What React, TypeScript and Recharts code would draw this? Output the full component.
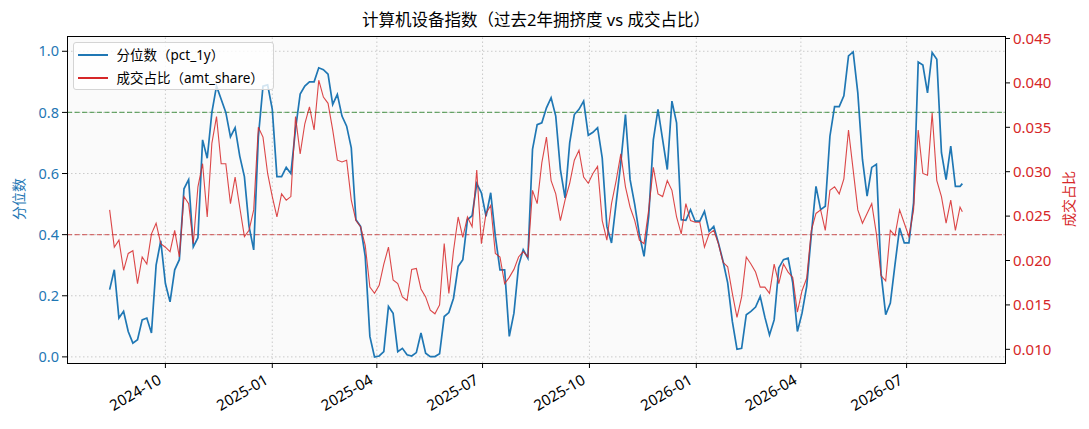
import React from 'react'
import { LineChart, Line, XAxis, YAxis, CartesianGrid, ReferenceLine, Legend } from 'recharts'

const dates = [
  '2024-08-14', '2024-08-18', '2024-08-22', '2024-08-26', '2024-08-30', '2024-09-03', '2024-09-07', '2024-09-11', '2024-09-15', '2024-09-19', '2024-09-23', '2024-09-27',
  '2024-10-01', '2024-10-05', '2024-10-09', '2024-10-13', '2024-10-17', '2024-10-21', '2024-10-25', '2024-10-29', '2024-11-02', '2024-11-06', '2024-11-10', '2024-11-14',
  '2024-11-18', '2024-11-22', '2024-11-26', '2024-11-30', '2024-12-04', '2024-12-08', '2024-12-12', '2024-12-16', '2024-12-20', '2024-12-24', '2024-12-28', '2025-01-01',
  '2025-01-05', '2025-01-09', '2025-01-13', '2025-01-17', '2025-01-21', '2025-01-25', '2025-01-29', '2025-02-02', '2025-02-06', '2025-02-10', '2025-02-14', '2025-02-18',
  '2025-02-22', '2025-02-26', '2025-03-02', '2025-03-06', '2025-03-10', '2025-03-14', '2025-03-18', '2025-03-22', '2025-03-26', '2025-03-30', '2025-04-03', '2025-04-07',
  '2025-04-11', '2025-04-15', '2025-04-19', '2025-04-23', '2025-04-27', '2025-05-01', '2025-05-05', '2025-05-09', '2025-05-13', '2025-05-17', '2025-05-21', '2025-05-25',
  '2025-05-29', '2025-06-02', '2025-06-06', '2025-06-10', '2025-06-14', '2025-06-18', '2025-06-22', '2025-06-26', '2025-06-30', '2025-07-04', '2025-07-08', '2025-07-12',
  '2025-07-16', '2025-07-20', '2025-07-24', '2025-07-28', '2025-08-01', '2025-08-05', '2025-08-09', '2025-08-13', '2025-08-17', '2025-08-21', '2025-08-25', '2025-08-29',
  '2025-09-02', '2025-09-06', '2025-09-10', '2025-09-14', '2025-09-18', '2025-09-22', '2025-09-26', '2025-09-30', '2025-10-04', '2025-10-08', '2025-10-12', '2025-10-16',
  '2025-10-20', '2025-10-24', '2025-10-28', '2025-11-01', '2025-11-05', '2025-11-09', '2025-11-13', '2025-11-17', '2025-11-21', '2025-11-25', '2025-11-29', '2025-12-03',
  '2025-12-07', '2025-12-11', '2025-12-15', '2025-12-19', '2025-12-23', '2025-12-27', '2025-12-31', '2026-01-04', '2026-01-08', '2026-01-12', '2026-01-16', '2026-01-20',
  '2026-01-24', '2026-01-28', '2026-02-01', '2026-02-05', '2026-02-09', '2026-02-13', '2026-02-17', '2026-02-21', '2026-02-25', '2026-03-01', '2026-03-05', '2026-03-09',
  '2026-03-13', '2026-03-17', '2026-03-21', '2026-03-25', '2026-03-29', '2026-04-02', '2026-04-06', '2026-04-10', '2026-04-14', '2026-04-18', '2026-04-22', '2026-04-26',
  '2026-04-30', '2026-05-04', '2026-05-08', '2026-05-12', '2026-05-16', '2026-05-20', '2026-05-24', '2026-05-28', '2026-06-01', '2026-06-05', '2026-06-09', '2026-06-13',
  '2026-06-17', '2026-06-21', '2026-06-25', '2026-06-29', '2026-07-03', '2026-07-07', '2026-07-11', '2026-07-15', '2026-07-19', '2026-07-23', '2026-07-27', '2026-07-31',
  '2026-08-04', '2026-08-08', '2026-08-12', '2026-08-16', '2026-08-18',
]

const pct1y = [
  0.22, 0.285, 0.127, 0.149, 0.083, 0.045, 0.056, 0.121, 0.127, 0.078, 0.30, 0.38,
  0.24, 0.18, 0.285, 0.318, 0.55, 0.58, 0.36, 0.39, 0.71, 0.65, 0.80, 0.886,
  0.843, 0.80, 0.72, 0.75, 0.657, 0.59, 0.427, 0.35, 0.72, 0.886, 0.89, 0.81,
  0.59, 0.59, 0.62, 0.60, 0.745, 0.86, 0.886, 0.90, 0.90, 0.946, 0.94, 0.925,
  0.826, 0.859, 0.788, 0.755, 0.684, 0.449, 0.427, 0.329, 0.067, 0.0, 0.003, 0.017,
  0.165, 0.143, 0.017, 0.028, 0.007, 0.003, 0.014, 0.078, 0.012, 0.001, 0.001, 0.01,
  0.132, 0.145, 0.192, 0.296, 0.318, 0.449, 0.462, 0.567, 0.537, 0.46, 0.537, 0.395,
  0.285, 0.285, 0.067, 0.143, 0.298, 0.351, 0.323, 0.679, 0.76, 0.766, 0.815, 0.848,
  0.788, 0.613, 0.52, 0.70, 0.793, 0.81, 0.837, 0.725, 0.735, 0.75, 0.651, 0.427,
  0.373, 0.504, 0.635, 0.793, 0.58, 0.498, 0.40, 0.329, 0.46, 0.71, 0.81, 0.711,
  0.613, 0.837, 0.766, 0.449, 0.447, 0.482, 0.444, 0.444, 0.476, 0.411, 0.427, 0.373,
  0.313, 0.242, 0.116, 0.025, 0.028, 0.138, 0.149, 0.163, 0.198, 0.13, 0.072, 0.121,
  0.291, 0.318, 0.323, 0.242, 0.083, 0.143, 0.231, 0.40, 0.558, 0.482, 0.493, 0.722,
  0.819, 0.819, 0.854, 0.985, 0.998, 0.864, 0.646, 0.526, 0.62, 0.63, 0.274, 0.138,
  0.176, 0.302, 0.422, 0.373, 0.373, 0.504, 0.965, 0.955, 0.864, 0.996, 0.974, 0.668,
  0.58, 0.69, 0.558, 0.558, 0.567,
]

const amtShare = [
  0.0257, 0.0215, 0.0223, 0.0189, 0.0208, 0.0211, 0.0174, 0.0204, 0.0196, 0.0230, 0.0242, 0.0219,
  0.0215, 0.0210, 0.0234, 0.0204, 0.0272, 0.0264, 0.0219, 0.0283, 0.0309, 0.0249, 0.0332, 0.0362,
  0.0309, 0.0309, 0.0264, 0.0294, 0.0260, 0.0227, 0.0234, 0.0257, 0.0350, 0.0339, 0.0298, 0.0272,
  0.0249, 0.0275, 0.0268, 0.0272, 0.0362, 0.0320, 0.0354, 0.0373, 0.0347, 0.0403, 0.0384, 0.0377,
  0.0347, 0.0313, 0.0311, 0.0313, 0.0268, 0.0245, 0.0238, 0.0217, 0.0170, 0.0163, 0.0172, 0.0196,
  0.0215, 0.0178, 0.0174, 0.0159, 0.0155, 0.0190, 0.0191, 0.0168, 0.0159, 0.0144, 0.0140, 0.0150,
  0.0219, 0.0163, 0.0211, 0.0249, 0.0226, 0.0249, 0.0238, 0.0302, 0.0219, 0.0253, 0.0262, 0.0208,
  0.0204, 0.0174, 0.0181, 0.0190, 0.0204, 0.0210, 0.0204, 0.0279, 0.0264, 0.0310, 0.0339, 0.0290,
  0.0275, 0.0245, 0.0268, 0.0287, 0.0313, 0.0324, 0.0294, 0.0287, 0.0298, 0.0306, 0.0245, 0.0223,
  0.0264, 0.0290, 0.0320, 0.0283, 0.0260, 0.0245, 0.0223, 0.0219, 0.0257, 0.0305, 0.0275, 0.0272,
  0.0290, 0.0279, 0.0249, 0.0230, 0.0264, 0.0245, 0.0243, 0.0243, 0.0215, 0.0230, 0.0234, 0.0219,
  0.0198, 0.0193, 0.0163, 0.0136, 0.0159, 0.0204, 0.0196, 0.0187, 0.0170, 0.0170, 0.0163, 0.0196,
  0.0174, 0.0196, 0.0187, 0.0181, 0.0142, 0.0166, 0.0180, 0.0234, 0.0253, 0.0257, 0.0234, 0.0279,
  0.0283, 0.0275, 0.0292, 0.0347, 0.0302, 0.0257, 0.0242, 0.0253, 0.0264, 0.0230, 0.0183, 0.0177,
  0.0234, 0.0228, 0.0257, 0.0242, 0.0227, 0.0257, 0.0347, 0.0298, 0.0296, 0.0366, 0.0290, 0.0272,
  0.0242, 0.0268, 0.0234, 0.0260, 0.0255,
]

const monthTicks = ['2024-10-01', '2025-01-01', '2025-04-01', '2025-07-01', '2025-10-01', '2026-01-01', '2026-04-01', '2026-07-01']
const leftTicks = [0, 0.2, 0.4, 0.6, 0.8, 1.0]
const rightTicks = [0.01, 0.015, 0.02, 0.025, 0.03, 0.035, 0.04, 0.045]

const toTs = (s: string) => Date.parse(s + 'T00:00:00Z')

const rows = dates.map((d, i) => ({ t: toTs(d), pct: pct1y[i], amt: amtShare[i] }))
const tStart = rows[0].t
const tEnd = rows[rows.length - 1].t
const pad = (tEnd - tStart) * 0.05
const monthTs = monthTicks.map(toTs)

const BLUE = '#1f77b4'
const RED = '#d62728'
const FONT = "'Noto Sans', 'Noto Sans CJK SC', sans-serif"
const GRID = { stroke: '#c4c4c4', strokeDasharray: '1.5 2.5', strokeWidth: 0.9 }

const DateTick = (props: any) => {
  const { x, y, payload } = props
  const d = new Date(payload.value)
  const label = `${d.getUTCFullYear()}-${String(d.getUTCMonth() + 1).padStart(2, '0')}`
  const px = x - 3
  const py = y + 15
  return (
    <text x={px} y={py} textAnchor="end" transform={`rotate(-30, ${px}, ${py})`}
      fontSize={15} fill="#000" fontFamily={FONT}>
      {label}
    </text>
  )
}

const LegendBox = () => (
  <div style={{
    position: 'relative', width: 201, height: 48, boxSizing: 'border-box',
    background: 'rgba(255,255,255,0.8)', border: '1px solid #d4d4d4', borderRadius: 3,
    fontFamily: FONT, fontSize: 13.5, color: '#000',
  }}>
    {[
      { name: '分位数（pct_1y）', color: BLUE, w: 1.8, top: 12 },
      { name: '成交占比（amt_share）', color: RED, w: 1.1, top: 35 },
    ].map((it) => (
      <div key={it.name}>
        <div style={{ position: 'absolute', left: 4, top: it.top - it.w / 2, width: 30, height: it.w, background: it.color }} />
        <div style={{ position: 'absolute', left: 43, top: it.top - 10, lineHeight: '20px', whiteSpace: 'nowrap' }}>{it.name}</div>
      </div>
    ))}
  </div>
)

export default function App() {
  return (
    <div style={{ position: 'absolute', left: 0, top: 0, width: 1089, height: 429, background: '#fff', fontFamily: FONT }}>
      <div style={{ position: 'absolute', left: 0, width: 1072, top: 8, textAlign: 'center', fontSize: 16.5, lineHeight: '24px', color: '#000' }}>
        计算机设备指数（过去2年拥挤度 vs 成交占比）
      </div>
      <LineChart width={1089} height={429} data={rows} margin={{ top: 36, right: 0, bottom: 0, left: 0 }}>
        <CartesianGrid yAxisId="left" fill="#fafafa" horizontal={false} vertical={false} />
        <XAxis
          dataKey="t"
          type="number"
          domain={[tStart - pad, tEnd + pad]}
          ticks={monthTs}
          interval={0}
          height={66}
          tick={<DateTick />}
          tickSize={5}
          tickMargin={0}
          tickLine={{ stroke: '#000' }}
          axisLine={false}
          allowDataOverflow
        />
        <YAxis
          yAxisId="left"
          width={67}
          domain={[-0.02, 1.05]}
          ticks={leftTicks}
          tickFormatter={(v: number) => v.toFixed(1)}
          tick={{ fill: BLUE, fontSize: 14.5, fontFamily: FONT }}
          tickSize={5}
          tickMargin={3}
          tickLine={{ stroke: '#000' }}
          axisLine={false}
          allowDataOverflow
        />
        <YAxis
          yAxisId="right"
          orientation="right"
          width={84}
          domain={[0.00846, 0.04528]}
          ticks={rightTicks}
          tickFormatter={(v: number) => v.toFixed(3)}
          tick={{ fill: RED, fontSize: 15, fontFamily: FONT }}
          tickSize={5}
          tickMargin={3}
          tickLine={{ stroke: '#000' }}
          axisLine={false}
          allowDataOverflow
        />
        {monthTs.map((t) => (
          <ReferenceLine key={`gx${t}`} yAxisId="left" x={t} {...GRID} />
        ))}
        {leftTicks.map((v) => (
          <ReferenceLine key={`gy${v}`} yAxisId="left" y={v} {...GRID} />
        ))}
        <ReferenceLine yAxisId="left" y={0.8} stroke="#3c8c3c" strokeOpacity={0.75} strokeDasharray="5 2.5" strokeWidth={1.1} />
        <ReferenceLine yAxisId="left" y={0.4} stroke="#c84646" strokeOpacity={0.75} strokeDasharray="5 2.5" strokeWidth={1.1} />
        <Line yAxisId="left" type="linear" dataKey="pct" stroke={BLUE} strokeWidth={1.7} dot={false} isAnimationActive={false} name="分位数（pct_1y）" />
        <Line yAxisId="right" type="linear" dataKey="amt" stroke={RED} strokeWidth={1.1} strokeOpacity={0.85} dot={false} isAnimationActive={false} name="成交占比（amt_share）" />
        <Legend
          layout="vertical"
          align="center"
          verticalAlign="middle"
          content={<LegendBox />}
          wrapperStyle={{ left: 72.5, top: 42, width: 201, height: 48 }}
        />
      </LineChart>
      <div style={{ position: 'absolute', left: 66.5, top: 35.5, width: 939, height: 328, boxSizing: 'border-box', border: '1.1px solid #000', pointerEvents: 'none' }} />
      <div style={{ position: 'absolute', left: 18, top: 199, transform: 'translate(-50%, -50%) rotate(-90deg)', fontSize: 14, color: BLUE, whiteSpace: 'nowrap' }}>分位数</div>
      <div style={{ position: 'absolute', left: 1068, top: 199, transform: 'translate(-50%, -50%) rotate(-90deg)', fontSize: 14, color: RED, whiteSpace: 'nowrap' }}>成交占比</div>
    </div>
  )
}
